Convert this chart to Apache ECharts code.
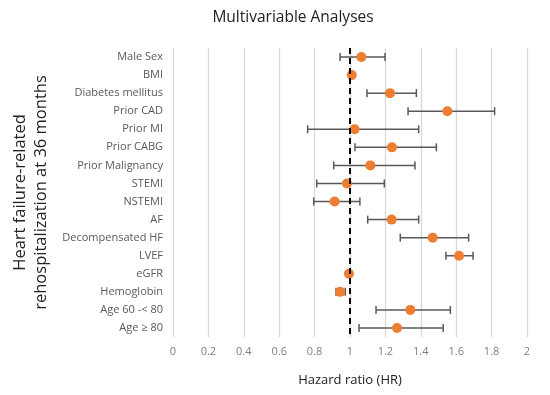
<!DOCTYPE html>
<html><head><meta charset="utf-8">
<script src="https://cdn.jsdelivr.net/npm/echarts@6/dist/echarts.min.js"></script>
<style>html,body{margin:0;padding:0;background:#fff}#c{width:550px;height:395px}</style>
</head><body><div id="c"></div>
<script>
var categories = ["Male Sex","BMI","Diabetes mellitus","Prior CAD","Prior MI","Prior CABG","Prior Malignancy","STEMI","NSTEMI","AF","Decompensated HF","LVEF","eGFR","Hemoglobin","Age 60 -< 80","Age \u2265 80"];
var hr    = [1.064, 1.010, 1.226, 1.550, 1.026, 1.237, 1.115, 0.983, 0.913, 1.235, 1.467, 1.616, 0.994, 0.945, 1.341, 1.266];
var lower = [0.944, 1.000, 1.096, 1.328, 0.761, 1.028, 0.908, 0.812, 0.795, 1.100, 1.284, 1.542, 0.988, 0.921, 1.147, 1.051];
var upper = [1.198, 1.020, 1.375, 1.817, 1.388, 1.488, 1.367, 1.194, 1.056, 1.388, 1.670, 1.695, 1.000, 0.973, 1.567, 1.527];
var xTicks = [0, 0.2, 0.4, 0.6, 0.8, 1, 1.2, 1.4, 1.6, 1.8, 2];
var refValue = 1;

var chart = echarts.init(document.getElementById('c'));
var font = "'Open Sans', 'Liberation Sans', sans-serif";
chart.setOption({
  animation: false,
  title: {
    text: 'Multivariable Analyses', left: 288, top: 5, textAlign: 'center',
    textStyle: {fontFamily: font, fontSize: 15.5, fontWeight: 'normal', color: '#222'}
  },
  grid: {left: 173, right: 23, top: 48, bottom: 58, containLabel: false, outerBoundsMode: 'none'},
  xAxis: {
    type: 'value', min: xTicks[0], max: xTicks[xTicks.length-1], interval: 0.2,
    name: 'Hazard ratio (HR)', nameLocation: 'middle', nameGap: 37,
    nameTextStyle: {fontFamily: font, fontSize: 13, color: '#222'},
    axisLine: {show: false}, axisTick: {show: false},
    axisLabel: {fontFamily: font, fontSize: 11, color: '#7f7f7f', margin: 9,
      formatter: function(v){ return String(Math.round(v*10)/10); }},
    splitLine: {show: true, lineStyle: {color: '#d9d9d9', width: 1.3}}
  },
  yAxis: {
    type: 'category', data: categories, inverse: true,
    name: 'Heart failure-related\nrehospitalization at 36 months', nameLocation: 'middle', nameGap: 120,
    nameTextStyle: {fontFamily: font, fontSize: 16.5, color: '#222', lineHeight: 21},
    axisLine: {show: false}, axisTick: {show: false}, splitLine: {show: false},
    axisLabel: {fontFamily: font, fontSize: 11, color: '#595959', margin: 10}
  },
  series: [
    {
      type: 'custom',
      renderItem: function(params, api){
        var y = api.value(0), lo = api.value(1), hi = api.value(2);
        var p1 = api.coord([lo, y]), p2 = api.coord([hi, y]);
        var h = 4;
        var st = {stroke: '#595959', lineWidth: 1.5};
        return {type: 'group', children: [
          {type: 'line', shape: {x1: p1[0], y1: p1[1], x2: p2[0], y2: p2[1]}, style: st},
          {type: 'line', shape: {x1: p1[0], y1: p1[1]-h, x2: p1[0], y2: p1[1]+h}, style: st},
          {type: 'line', shape: {x1: p2[0], y1: p2[1]-h, x2: p2[0], y2: p2[1]+h}, style: st}
        ]};
      },
      encode: {x: [1, 2], y: 0},
      data: categories.map(function(c, i){ return [i, lower[i], upper[i]]; }),
      z: 2
    },
    {
      type: 'scatter', symbolSize: 10,
      itemStyle: {color: '#ED7D31', opacity: 1},
      data: categories.map(function(c, i){ return [hr[i], i]; }),
      z: 4,
      markLine: {
        silent: true, symbol: 'none', label: {show: false},
        lineStyle: {color: '#000', type: [6, 4], width: 2},
        data: [{xAxis: refValue}]
      }
    }
  ]
});
</script></body></html>
